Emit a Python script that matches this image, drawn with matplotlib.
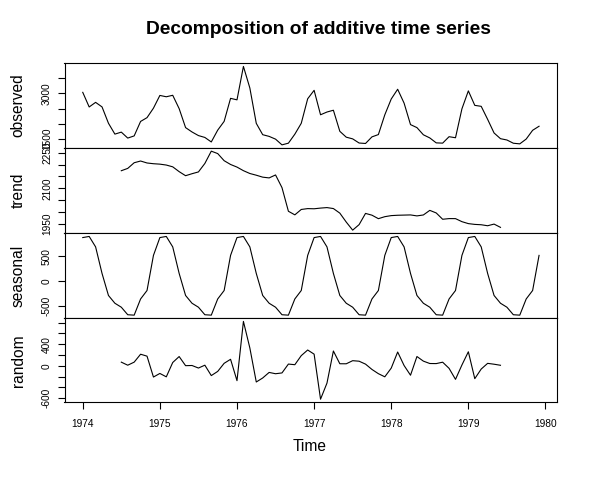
import matplotlib
matplotlib.use("Agg")
import matplotlib.pyplot as plt
import numpy as np

plt.rcParams['font.family'] = ['Liberation Sans', 'DejaVu Sans']

# monthly series, Jan 1974 .. Dec 1979
observed = [3035, 2552, 2704, 2554, 2014, 1655, 1721, 1524, 1596, 2074, 2199, 2512,
            2933, 2889, 2938, 2497, 1870, 1726, 1607, 1545, 1396, 1787, 2076, 2837,
            2787, 3891, 3179, 2011, 1636, 1580, 1489, 1300, 1356, 1653, 2013, 2823,
            3102, 2294, 2385, 2444, 1748, 1554, 1498, 1361, 1346, 1564, 1640, 2293,
            2815, 3137, 2679, 1969, 1870, 1633, 1529, 1366, 1357, 1570, 1535, 2491,
            3084, 2605, 2573, 2143, 1693, 1504, 1461, 1354, 1333, 1492, 1781, 1915]

# trend and random exist from Jul 1974 to Jun 1979
trend_vals = [2174.1, 2183.9, 2207.7, 2215.0, 2206.7, 2203.6,
              2201.8, 2198.0, 2190.5, 2170.2, 2153.1, 2161.5,
              2169.0, 2204.7, 2256.5, 2246.3, 2216.3, 2200.4,
              2189.4, 2174.3, 2162.4, 2155.2, 2147.0, 2143.8,
              2156.3, 2102.9, 2003.3, 1988.2, 2010.9, 2014.5,
              2013.8, 2016.7, 2018.8, 2014.7, 1995.5, 1957.8,
              1923.8, 1947.0, 1994.3, 1986.8, 1972.1, 1980.5,
              1985.0, 1986.5, 1987.2, 1987.9, 1983.8, 1987.7,
              2007.1, 1996.2, 1969.6, 1972.4, 1972.3, 1959.5,
              1951.3, 1948.0, 1946.5, 1942.3, 1949.3, 1935.5]

# seasonal figure, Jan .. Dec
seasonal_figure = [873.8, 896.3, 687.6, 156.6, -284.5, -440.0,
                   -519.4, -669.9, -678.2, -354.3, -185.2, 517.3]

random_vals = [66.4, 10.0, 66.6, 213.3, 177.5, -209.0,
               -142.6, -205.3, 60.0, 170.2, 1.4, 4.5,
               -42.6, 10.2, -182.2, -104.9, 45.0, 119.3,
               -276.2, 820.4, 329.0, -300.8, -226.5, -123.7,
               -147.9, -133.0, 31.0, 19.1, 187.3, 291.2,
               214.5, -619.0, -321.4, 272.7, 37.0, 36.2,
               93.6, 83.9, 29.9, -68.5, -146.9, -204.8,
               -43.8, 254.1, 4.2, -175.5, 170.7, 85.4,
               41.3, 39.7, 65.7, -48.1, -252.1, 14.1,
               258.9, -239.3, -61.1, 44.2, 28.2, 8.5]

panel_names = ["observed", "trend", "seasonal", "random"]
panel_ticks = [[1500, 2000, 2500, 3000, 3500],
               [1950, 2000, 2050, 2100, 2150, 2200, 2250],
               [-500, 0, 500],
               [-600, -400, -200, 0, 200, 400, 600, 800]]
panel_labels = [["1500", "", "", "3000", ""],
                ["1950", "", "", "2100", "", "", "2250"],
                ["-500", "0", "500"],
                ["-600", "", "", "0", "", "400", "", ""]]
year_ticks = [1974, 1975, 1976, 1977, 1978, 1979, 1980]


def main():
    t_full = 1974 + np.arange(len(observed)) / 12
    t_mid = 1974.5 + np.arange(len(trend_vals)) / 12
    seasonal = np.tile(seasonal_figure, len(observed) // 12)

    series = [(t_full, observed), (t_mid, trend_vals),
              (t_full, seasonal), (t_mid, random_vals)]

    W, H = 600, 479
    fig = plt.figure(figsize=(6.0, 4.79), dpi=100)

    left, right = 64.5, 557.3
    edges = [63.3, 148.0, 233.3, 318.3, 402.3]

    # R pads the data range by 4% on each side
    xr = t_full[-1] - t_full[0]
    xlim = (t_full[0] - 0.04 * xr, t_full[-1] + 0.04 * xr)

    for k in range(4):
        top, bot = edges[k], edges[k + 1]
        ax = fig.add_axes([left / W, 1 - bot / H, (right - left) / W, (bot - top) / H])
        x, y = series[k]
        ax.plot(x, y, color='black', lw=0.8)
        y = np.asarray(y)
        yr = y.max() - y.min()
        ax.set_ylim(y.min() - 0.04 * yr, y.max() + 0.04 * yr)
        ax.set_xlim(*xlim)
        for s in ax.spines.values():
            s.set_linewidth(0.8)
        ax.set_yticks(panel_ticks[k])
        ax.set_yticklabels(panel_labels[k], rotation=90, va='center', fontsize=7.3)
        ax.tick_params(axis='y', direction='out', length=5, width=0.8, pad=4)
        ax.set_ylabel(panel_names[k], fontsize=11.2)
        ax.yaxis.label.set_va('center')
        ax.yaxis.set_label_coords((18.3 - left) / (right - left), 0.5)
        if k < 3:
            ax.set_xticks([])
        else:
            ax.set_xticks(year_ticks)
            ax.set_xticklabels([str(v) for v in year_ticks], fontsize=7.3)
            ax.tick_params(axis='x', direction='out', length=5, width=0.8, pad=7)

    fig.text(318.3 / W, 1 - 30 / H, "Decomposition of additive time series",
             ha='center', va='center', fontsize=13.8, fontweight='bold')
    fig.text(310 / W, 1 - 446.7 / H, "Time", ha='center', va='center', fontsize=11.2)

    fig.savefig("out.png", dpi=100)


if __name__ == "__main__":
    main()
